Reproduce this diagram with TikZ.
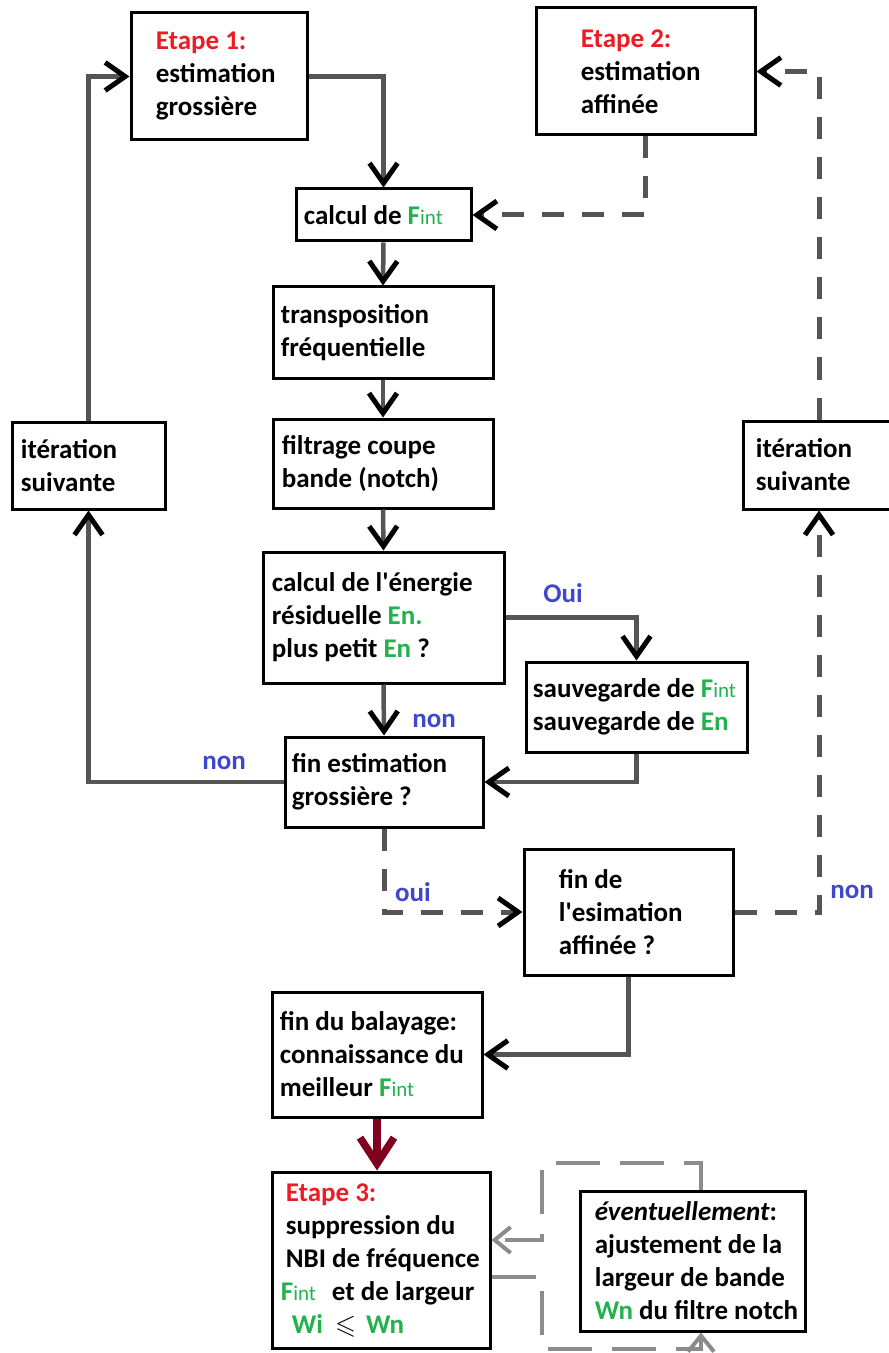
\documentclass[tikz,border=0pt]{standalone}
\usepackage{fontspec}
\setmainfont{Carlito}
\usepackage{amssymb}
\usetikzlibrary{arrows.meta,calc}
\definecolor{fgreen}{RGB}{34,177,76}
\definecolor{fred}{RGB}{237,28,36}
\definecolor{fblue}{RGB}{63,72,204}
\definecolor{lgray}{RGB}{85,85,85}
\definecolor{mgray}{RGB}{140,140,140}
\definecolor{maroonc}{RGB}{128,0,32}
\newcommand\Fint{{\color{fgreen}F{\fontsize{10.5pt}{10.5pt}\selectfont\mdseries int}}}
\newcommand\grn[1]{{\color{fgreen}#1}}
\newcommand\etape[1]{{\color{fred}#1}}
\newcommand\apos{\textquotesingle}
\newcommand\flowbox[7]{%
  \node[box,minimum width={(#4-#2)*0.5pt},minimum height={(#5-#3)*0.5pt}] (#1) at ({(#2+#4)/2},{(#3+#5)/2}) {};
  \node[txt] (#1t) at ($(#1.west)+(#6,0)$) {#7};
}
\begin{document}
\begin{tikzpicture}[x=0.5pt,y=-0.5pt,
  box/.style={draw=black,line width=1.5pt,rectangle,inner sep=0pt,fill=white},
  txt/.style={inner sep=0pt,align=left,anchor=west,font=\fontsize{13.5pt}{16.5pt}\selectfont\bfseries},
  lbl/.style={inner sep=0pt,text=fblue,font=\fontsize{13.5pt}{16.5pt}\selectfont\bfseries},
  conn/.style={draw=lgray,line width=2.25pt,-{Straight Barb[length=10pt,width=14pt,line width=2.5pt,color=black]}},
  dconn/.style={conn,line width=2.5pt,dash pattern=on 11pt off 9pt},
  gconn/.style={draw=mgray,line width=2pt,dash pattern=on 22pt off 10pt},
  gtip/.style={-{Straight Barb[length=8pt,width=13pt,line width=2pt,color=mgray]}},
  rconn/.style={draw=maroonc,line width=3.75pt,-{Straight Barb[length=13pt,width=17pt,line width=3.75pt,color=maroonc]}}
]
\useasboundingbox (0,0) rectangle (888,1353);

\flowbox{e1}{131}{13}{307}{140}{26}{\etape{Etape 1:}\\estimation\\grossière}
\flowbox{e2}{536}{8}{755}{135}{46}{\etape{Etape 2:}\\estimation\\affinée}
\flowbox{cf}{296}{189}{471}{241}{9}{calcul de \Fint}
\flowbox{tr}{273}{287}{493}{378}{9}{transposition\\fréquentielle}
\flowbox{fi}{273}{419}{493}{508}{10}{filtrage coupe\\bande (notch)}
\flowbox{en}{263}{552}{504}{683}{10}{calcul de l\apos énergie\\résiduelle \grn{En.}\\plus petit \grn{En} ?}
\flowbox{sv}{526}{662}{747}{752}{8}{sauvegarde de \Fint\\sauvegarde de \grn{En}}
\flowbox{fe}{285}{737}{483}{827}{8}{fin estimation\\grossière ?}
\flowbox{ita}{12}{422}{165}{509}{10}{itération\\suivante}
\flowbox{itb}{743}{421}{895}{509}{14}{itération\\suivante}
\flowbox{fd}{524}{849}{733}{975}{36}{fin de\\l\apos esimation\\affinée ?}
\flowbox{bl}{272}{992}{482}{1117}{9}{fin du balayage:\\connaissance du\\meilleur \Fint}
\flowbox{e3}{272}{1172}{490}{1348}{15}{\etape{Etape 3:}\\suppression du\\NBI de fréquence\\\hspace*{-2.5pt}\Fint\hspace{8pt}et de largeur\\\hspace*{3pt}\grn{Wi}\hspace{6pt}$\leqslant$\hspace{5pt}\grn{Wn}}
\flowbox{ev}{580}{1191}{805}{1331}{16}{{\itshape éventuellement}:\\ajustement de la\\largeur de bande\\\grn{Wn} du filtre notch}

% solid connectors
\draw[conn] (e1.east) -| (cf.north);
\draw[conn] (cf.south) -- (tr.north);
\draw[conn] (tr.south) -- (fi.north);
\draw[conn] (fi.south) -- (en.north);
\draw[conn] (en.south) -- (fe.north);
\draw[conn] (en.east) -| (sv.north);
\draw[conn] (sv.south) |- (fe.east);
\draw[conn] (fe.west) -| (ita.south);
\draw[conn] (ita.north) |- (e1.west);
\draw[conn] (fd.south) |- (bl.east);

% dashed connectors
\draw[dconn] (fe.south) |- (fd.west);
\draw[dconn] (fd.east) -| (itb.south);
\draw[dconn] (itb.north) |- (e2.east);
\draw[dconn] (e2.south) |- (cf.east);

% red arrow
\draw[rconn] (bl.south) -- (bl.south |- e3.north);

% grey dashed loop
\coordinate (ga) at (542,1163);
\coordinate (gb) at (542,1240);
\coordinate (gc) at (701,1163);
\coordinate (gd) at (542,1277);
\coordinate (ge) at (542,1349);
\coordinate (gf) at (701,1349);
\draw[gconn,gtip] (ev.north -| gc) -- (gc) -- (ga) -- (gb) -- (e3.east |- gb);
\draw[gconn,gtip] (e3.east |- gd) -- (gd) -- (ge) -- (gf) -- (ev.south -| gf);

% labels
\node[lbl] (lOui) at (563,593) {Oui};
\node[lbl] (lnona) at (434,721) {non};
\node[lbl] (lnonb) at (224,763) {non};
\node[lbl] (louic) at (413,892) {oui};
\node[lbl] (lnond) at (852,892) {non};
\end{tikzpicture}
\end{document}
